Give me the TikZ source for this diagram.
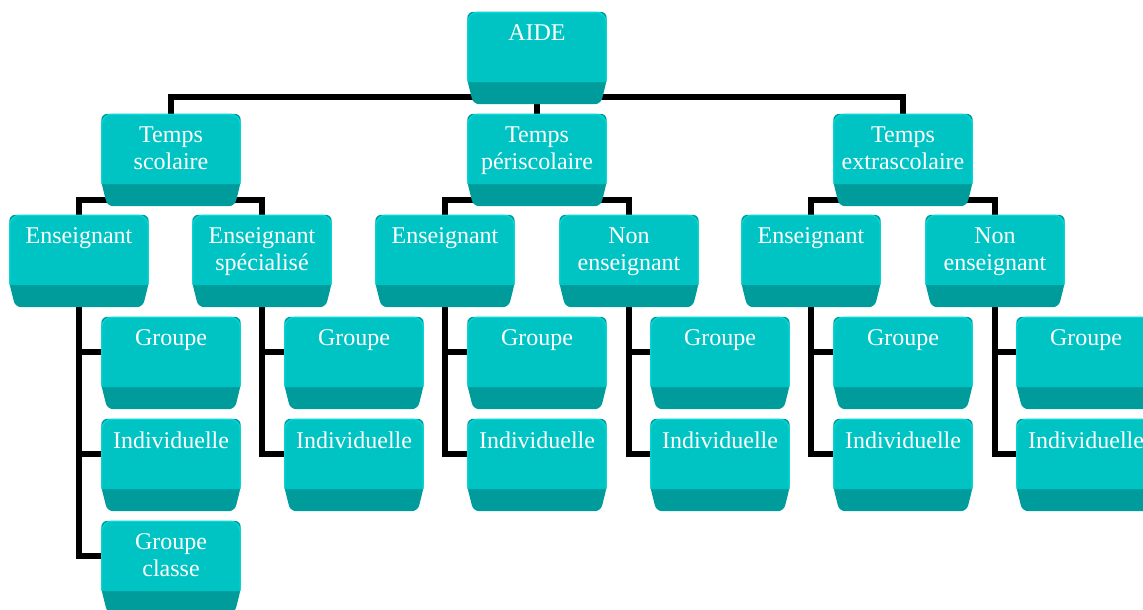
\documentclass[tikz,border=0pt]{standalone}
\usepackage{fontspec}
\setmainfont{Liberation Serif}
\usetikzlibrary{calc}
\definecolor{AideFace}{HTML}{00C4C4}
\definecolor{AideBand}{HTML}{009C9C}
\definecolor{AideEdge}{HTML}{00DCDC}
\pgfdeclarelayer{wires}
\pgfdeclarelayer{plates}
\pgfsetlayers{wires,plates,main}
% one bevelled box: name, centre, text
\newcommand\plate[3]{%
  \node[box] (#1) at (#2) {};
  \node[boxtext] (#1-t) at ($(#1.north)+(0,-12.5)$) {#3};}

\begin{document}
\begin{tikzpicture}[x=1pt,y=1pt]
    \tikzset{
      box/.style={rectangle, minimum width=139pt, minimum height=92pt, inner sep=0pt},
      boxtext/.style={anchor=north, inner sep=0pt, align=center, text=white,
        font=\fontsize{24}{27}\selectfont},
      link/.style={draw=black, line width=6pt}
    }
    \useasboundingbox (0,0) rectangle (1143,610);
    % top
    \plate{aide}{537,552}{AIDE}
    % times
    \plate{scol}{171,450}{Temps\\scolaire}
    \plate{peri}{537,450}{Temps\\périscolaire}
    \plate{extra}{903,450}{Temps\\extrascolaire}
    % who
    \plate{ens1}{79,349}{Enseignant}
    \plate{spec}{262,349}{Enseignant\\spécialisé}
    \plate{ens2}{445,349}{Enseignant}
    \plate{non2}{629,349}{Non\\enseignant}
    \plate{ens3}{811,349}{Enseignant}
    \plate{non3}{995,349}{Non\\enseignant}
    % how
    \plate{g1}{171,247}{Groupe}
    \plate{i1}{171,145}{Individuelle}
    \plate{c1}{171,43}{Groupe\\classe}
    \plate{g2}{354,247}{Groupe}
    \plate{i2}{354,145}{Individuelle}
    \plate{g3}{537,247}{Groupe}
    \plate{i3}{537,145}{Individuelle}
    \plate{g4}{720,247}{Groupe}
    \plate{i4}{720,145}{Individuelle}
    \plate{g5}{903,247}{Groupe}
    \plate{i5}{903,145}{Individuelle}
    \plate{g6}{1086,247}{Groupe}
    \plate{i6}{1086,145}{Individuelle}
    \begin{pgfonlayer}{plates}
      \foreach \n in {aide,scol,peri,extra,ens1,spec,ens2,non2,ens3,non3,
        g1,i1,c1,g2,i2,g3,i3,g4,i4,g5,i5,g6,i6}{
        \fill[AideBand, rounded corners=6pt] (\n.north west)
          -- ($(\n.south west)+(0,24)$) -- ($(\n.south west)+(6,0)$)
          -- ($(\n.south east)+(-6,0)$) -- ($(\n.south east)+(0,24)$)
          -- (\n.north east) -- cycle;
        \fill[AideFace] ($(\n.south west)+(0,22)$) [rounded corners=10pt]
          -- (\n.north west) -- (\n.north east) [sharp corners]
          -- ($(\n.south east)+(0,22)$) -- cycle;
        \draw[AideEdge, line width=1pt] ($(\n.south west)+(0.5,24)$) [rounded corners=10pt]
          -- ($(\n.north west)+(0.5,-0.5)$) -- ($(\n.north east)+(-0.5,-0.5)$)
          [sharp corners] -- ($(\n.south east)+(-0.5,24)$);
      }
    \end{pgfonlayer}
    \begin{pgfonlayer}{wires}
      \draw[link] (aide) -- (peri);
      \draw[link] (scol.north) |- ($(aide.south)+(0,7)$) -| (extra.north);
      \foreach \up/\a/\b in {scol/ens1/spec,peri/ens2/non2,extra/ens3/non3}{
        \draw[link] (\up) -- ($(\up.south)+(0,6)$);
        \draw[link] (\a.north) |- ($(\up.south)+(0,6)$) -| (\b.north);
      }
      \foreach \p/\c in {ens1/g1,ens1/i1,ens1/c1,spec/g2,spec/i2,ens2/g3,ens2/i3,
        non2/g4,non2/i4,ens3/g5,ens3/i5,non3/g6,non3/i6}
        \draw[link] (\p) |- ($(\c.west)+(0,11)$);
    \end{pgfonlayer}
\end{tikzpicture}
\end{document}
